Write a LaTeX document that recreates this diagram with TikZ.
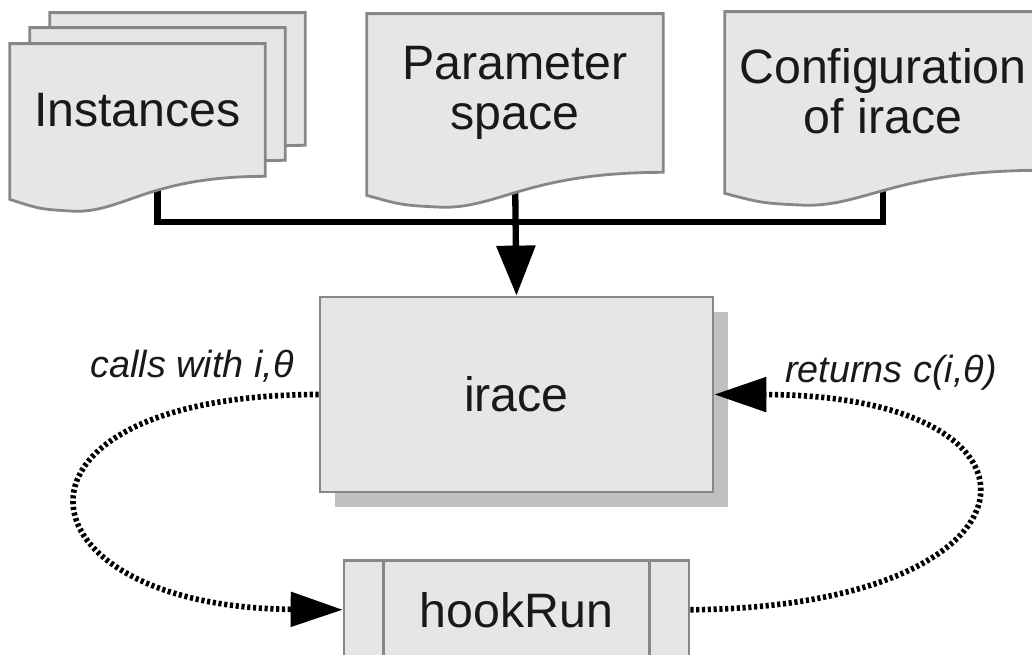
\documentclass[tikz,border=0pt]{standalone}
\usepackage{fontspec}
\setmainfont{Liberation Sans}
\usepackage{xcolor}
\usepackage{tikz}
\usetikzlibrary{arrows.meta,positioning,calc,shadows,backgrounds}

\definecolor{boxfill}{HTML}{E6E6E6}
\definecolor{boxline}{HTML}{878787}
\definecolor{shadowgray}{HTML}{C0C0C0}

% extra layer so the wires sit below the document shapes
\pgfdeclarelayer{wires}
\pgfsetlayers{wires,background,main}

% outline of a "document" node: flat top, wavy bottom edge
\newcommand{\docshape}[1]{%
  \filldraw[docline] (#1.north west) -- (#1.north east) -- (#1.south east)
    .. controls ($(#1.south west)!0.55!(#1.south east)$)
           and ($(#1.south west)!0.45!(#1.south east)+(0,-35)$)
    .. ($(#1.south west)!0.26!(#1.south east)+(0,-35)$)
    .. controls ($(#1.south west)!0.12!(#1.south east)+(0,-33)$)
    .. ($(#1.south west)+(0,-23)$) -- cycle;}

\begin{document}
\begin{tikzpicture}[
    x=0.02cm, y=0.02cm,
    every node/.style={text=black!90},
    doc/.style={rectangle, inner sep=0pt, align=center,
                font=\fontsize{27.5}{28.5}\selectfont},
    docline/.style={draw=boxline, fill=boxfill, line width=1.6pt},
    block/.style={draw=boxline, fill=boxfill, line width=1.6pt,
                  rectangle, align=center, font=\fontsize{27.5}{32}\selectfont},
    link/.style={line width=3.6pt},
    loop/.style={line width=3.2pt, dash pattern=on 1.8pt off 1.5pt,
                 -{Triangle[length=1.04cm, width=0.68cm]}},
    lbl/.style={font=\fontsize{21.5}{25}\selectfont\itshape, anchor=base},
    node distance=1.32cm
]
\useasboundingbox (0,0) rectangle (1032,655);

% inputs
\node[doc, minimum width=5.1cm, minimum height=2.64cm] (instC) at (177.5,576) {};
\node[doc, minimum width=5.1cm, minimum height=2.64cm] (instB) at (157.5,561) {};
\node[doc, minimum width=5.1cm, minimum height=2.64cm] (inst) at (137.5,545) {Instances};
\node[doc, minimum width=5.92cm, minimum height=3.16cm] (param) at (515,562) {Parameter\\space};
\node[doc, minimum width=6.32cm, minimum height=3.16cm] (conf) at (883,564) {Configuration\\of irace};

\begin{scope}[on background layer]
  \docshape{instC}
  \docshape{instB}
  \docshape{inst}
  \docshape{param}
  \docshape{conf}
\end{scope}

% main blocks
\node[block, minimum width=7.86cm, minimum height=3.9cm,
      drop shadow={shadow xshift=0.3cm, shadow yshift=-0.3cm,
                   fill=shadowgray, opacity=1}] (irace) at (516.5,260.5) {irace};
\node[block, minimum width=6.9cm, minimum height=1.96cm, below=of irace] (hook) {hookRun};
\draw[boxline, line width=1.6pt] ([xshift=0.82cm]hook.north west) -- ([xshift=0.82cm]hook.south west);
\draw[boxline, line width=1.6pt] ([xshift=-0.82cm]hook.north east) -- ([xshift=-0.82cm]hook.south east);

% inputs feed irace
\coordinate (bar) at (515,433);
\begin{pgfonlayer}{wires}
  \draw[link] ([xshift=0.4cm]inst.south) |- (bar) -| (conf.south);
  \draw[link, -{Triangle[length=1cm, width=0.76cm]}] (param.south) -- (irace.north);
\end{pgfonlayer}

% call / return loop
\draw[loop] (irace.west) .. controls (-18,260) and (9,48) .. (hook.west);
\draw[loop] (hook.east) .. controls (1053,48) and (1074,260) .. (irace.east);
\node[lbl] (callslbl) at (192,277) {calls with i,θ};
\node[lbl] (retlbl) at (891,272) {returns c(i,θ)};
\end{tikzpicture}
\end{document}
